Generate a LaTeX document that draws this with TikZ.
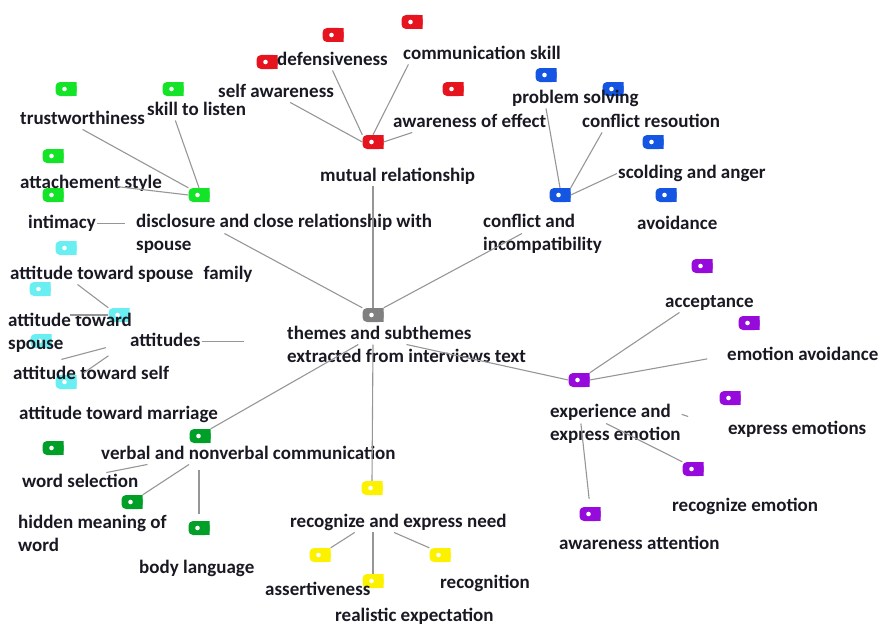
\documentclass[tikz,border=0pt]{standalone}
\usepackage{fontspec}
\setmainfont{Carlito}
\usepackage{tikz}
\usetikzlibrary{positioning,calc}

\begin{document}
\begin{tikzpicture}[x=1pt, y=-1pt, font=\fontsize{19}{23.3}\selectfont\bfseries,
    icon/.style={rectangle, minimum width=21pt, minimum height=14pt, inner sep=0pt,
        path picture={
            \fill[#1, rounded corners=4.5pt] (path picture bounding box.south west) rectangle (path picture bounding box.north east);
            \fill[#1] (path picture bounding box.south) rectangle (path picture bounding box.north east);
            \fill[white] ([xshift=9pt]path picture bounding box.west) circle[radius=2.3pt];}},
    lbl/.style={anchor=west, inner sep=1pt, yshift=-2.5pt, text=labelColor, text height=13.5pt, text depth=4pt},
    lbl2/.style={anchor=west, inner sep=1pt, yshift=-2.5pt, text=labelColor, align=left},
    link/.style={draw=linkColor, line width=1.1pt}]
    \definecolor{redCode}{RGB}{230,20,30}
    \definecolor{lightGreenCode}{RGB}{20,228,40}
    \definecolor{cyanCode}{RGB}{105,238,242}
    \definecolor{darkGreenCode}{RGB}{0,160,40}
    \definecolor{blueCode}{RGB}{20,85,225}
    \definecolor{yellowCode}{RGB}{252,242,0}
    \definecolor{purpleCode}{RGB}{150,10,220}
    \definecolor{greyCode}{RGB}{128,128,128}
    \definecolor{labelColor}{RGB}{25,25,35}
    \definecolor{linkColor}{RGB}{150,150,150}

    \useasboundingbox (0,0) rectangle (880,626);

    \node[icon=greyCode] (mainIcon) at (373,315) {};

    \node[icon=redCode] (defensIcon) at (333,35) {};
    \node[icon=redCode] (commIcon) at (412,22) {};
    \node[icon=redCode] (selfIcon) at (267,62) {};
    \node[icon=redCode] (effectIcon) at (453,89) {};
    \node[icon=redCode] (mutualIcon) at (373,142) {};

    \node[icon=lightGreenCode] (trustIcon) at (66,89) {};
    \node[icon=lightGreenCode] (listenIcon) at (173,89) {};
    \node[icon=lightGreenCode] (attachIcon) at (53,156) {};
    \node[icon=lightGreenCode] (intimacyIcon) at (53,195) {};
    \node[icon=lightGreenCode] (discIcon) at (199,195) {};

    \node[icon=cyanCode] (famIcon) at (66,248) {};
    \node[icon=cyanCode] (spouseIcon) at (40,289) {};
    \node[icon=cyanCode] (attIcon) at (119,315) {};
    \node[icon=cyanCode] (selfattIcon) at (41,341) {};
    \node[icon=cyanCode] (marrIcon) at (66,382) {};

    \node[icon=darkGreenCode] (verbIcon) at (200,436) {};
    \node[icon=darkGreenCode] (wordIcon) at (53,448) {};
    \node[icon=darkGreenCode] (hiddenIcon) at (132,502) {};
    \node[icon=darkGreenCode] (bodyIcon) at (199,528) {};

    \node[icon=yellowCode] (needIcon) at (372,488) {};
    \node[icon=yellowCode] (assertIcon) at (320,555) {};
    \node[icon=yellowCode] (realIcon) at (373,581) {};
    \node[icon=yellowCode] (recogIcon) at (440,555) {};

    \node[icon=purpleCode] (expIcon) at (579,380) {};
    \node[icon=purpleCode] (acceptIcon) at (702,266) {};
    \node[icon=purpleCode] (emoavIcon) at (749,323) {};
    \node[icon=purpleCode] (exprIcon) at (730,398) {};
    \node[icon=purpleCode] (remoIcon) at (693,469) {};
    \node[icon=purpleCode] (attnIcon) at (590,514) {};

    \node[icon=blueCode] (conflictIcon) at (560,195) {};
    \node[icon=blueCode] (problemIcon) at (546,75) {};
    \node[icon=blueCode] (resolIcon) at (613,89) {};
    \node[icon=blueCode] (scoldIcon) at (653,142) {};
    \node[icon=blueCode] (avoidIcon) at (666,195) {};

    \node[lbl2] (main) at (286,342) {themes and subthemes\\extracted from interviews text};

    \node[lbl] (defens) at (276,58) {defensiveness};
    \node[lbl] (comm) at (402,52) {communication skill};
    \node[lbl] (self) at (217,90) {self awareness};
    \node[lbl] (effect) at (392,120) {awareness of effect};
    \node[lbl] (mutual) at (319,174) {mutual relationship};

    \node[lbl] (trust) at (19,117) {trustworthiness};
    \node[lbl] (listen) at (146,108) {skill to listen};
    \node[lbl] (attach) at (19,181) {attachement style};
    \node[lbl] (intimacy) at (27,221) {intimacy};
    \node[lbl2] (disc) at (135,231) {disclosure and close relationship with\\spouse};

    \node[lbl] (fam) at (9,272) {attitude toward spouse\hspace{10pt}family};
    \node[lbl2] (spouse) at (7,330) {attitude toward\\spouse};
    \node[lbl] (att) at (129,339) {attitudes};
    \node[lbl] (selfatt) at (12,372) {attitude toward self};
    \node[lbl] (marr) at (18,412) {attitude toward marriage};

    \node[lbl] (verbal) at (100,452) {verbal and nonverbal communication};
    \node[lbl] (word) at (21,480) {word selection};
    \node[lbl2] (hidden) at (17,531) {hidden meaning of\\word};
    \node[lbl] (body) at (138,566) {body language};

    \node[lbl] (need) at (289,520) {recognize and express need};
    \node[lbl] (assert) at (264,588) {assertiveness};
    \node[lbl] (real) at (334,614) {realistic expectation};
    \node[lbl] (recog) at (439,581) {recognition};

    \node[lbl2] (exp) at (549,421) {experience and\\express emotion};
    \node[lbl] (accept) at (664,300) {acceptance};
    \node[lbl] (emoav) at (726,353) {emotion avoidance};
    \node[lbl] (expr) at (727,427) {express emotions};
    \node[lbl] (remo) at (671,504) {recognize emotion};
    \node[lbl] (attn) at (558,542) {awareness attention};

    \node[lbl2] (conflict) at (482,231) {conflict and\\incompatibility};
    \node[lbl] (problem) at (511,96) {problem solving};
    \node[lbl] (resol) at (581,120) {conflict resoution};
    \node[lbl] (scold) at (617,171) {scolding and anger};
    \node[lbl] (avoid) at (636,222) {avoidance};

    \draw[link] ($(self.south west)!0.62!(self.south east)$) -- (mutualIcon.west);
    \draw[link] (defens.south) -- (mutualIcon.north west);
    \draw[link] ($(comm.south west)!0.04!(comm.south east)$) -- (mutualIcon.north);
    \draw[link] ($(effect.south west)!0.13!(effect.south east)$) -- (mutualIcon.east);
    \draw[link] (mutualIcon |- mutual.south) -- (mainIcon.north);

    \draw[link] (trust.south) -- (discIcon.north west);
    \draw[link] ($(listen.south west)!0.29!(listen.south east)$) -- (discIcon.north);
    \draw[link, shorten <=26pt] (attach.center) -- (discIcon.west);
    \draw[link, shorten >=10pt] (intimacy.east) -- (intimacy.east -| disc.west);
    \draw[link] ($(disc.west)!0.3!(disc.east)$) -- (mainIcon.north west);

    \draw[link] (problemIcon |- problem.south) -- (conflictIcon.north);
    \draw[link] ($(resol.south west)!0.15!(resol.south east)$) -- (conflictIcon.north east);
    \draw[link] (scold.west) -- (conflictIcon.east);
    \draw[link] ($(conflict.west)!0.33!(conflict.east)$) -- (mainIcon.north east);

    \draw[link] ($(fam.south west)!0.28!(fam.south east)$) -- (attIcon.north west);
    \draw[link] (spouse.center |- attIcon.west) -- (attIcon.west);
    \draw[link, shorten <=20pt, shorten >=24pt] ($(selfatt.north west)!0.19!(selfatt.north east)$) -- (att.west);
    \draw[link, shorten <=55pt, shorten >=25pt] ($(marr.north west)!0.1!(marr.north east)$) -- (att.west);
    \draw[link, shorten >=42pt] (att.east) -- (att.east -| main.west);

    \draw[link] ($(word.north west)!0.72!(word.north east)$) -- ($(verbal.south west)!0.16!(verbal.south east)$);
    \draw[link] (hiddenIcon.north east) -- ($(verbal.south west)!0.3!(verbal.south east)$);
    \draw[link, shorten <=7pt, shorten >=6pt] (bodyIcon.north) -- (bodyIcon |- verbal.south);
    \draw[link] (verbIcon.north east) -- ($(main.west)!0.3!(main.east)$);

    \draw[link] (needIcon.north) -- (mainIcon |- main.center);
    \draw[link] (assertIcon.north east) -- ($(need.south west)!0.3!(need.south east)$);
    \draw[link] (realIcon.north) -- (realIcon |- need.south);
    \draw[link] (recogIcon.north west) -- ($(need.south west)!0.48!(need.south east)$);

    \draw[link] (expIcon.west) -- (main.center);
    \draw[link] ($(accept.south west)!0.17!(accept.south east)$) -- (expIcon.north east);
    \draw[link, shorten <=19pt] (emoav.west) -- (expIcon.east);
    \draw[link, shorten <=41pt, shorten >=97pt] (expr.west) -- (expIcon);
    \draw[link] (remoIcon.north west) -- ($(exp.west)!0.43!(exp.east)$);
    \draw[link, shorten <=8pt] (attnIcon.north) -- ($(exp.west)!0.24!(exp.east)$);
\end{tikzpicture}
\end{document}
